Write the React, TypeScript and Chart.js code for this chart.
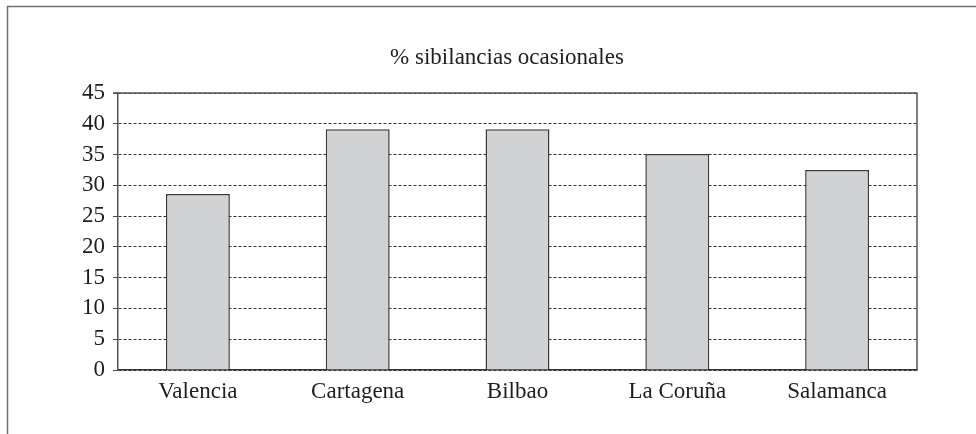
import React, { useEffect, useRef } from "react";
import { Chart, registerables } from "chart.js";

Chart.register(...registerables);

const categories = ["Valencia", "Cartagena", "Bilbao", "La Coruña", "Salamanca"];
const values = [28.6, 39.1, 39.1, 35.1, 32.5];
const yMin = 0;
const yMax = 45;
const yStep = 5;
const titleText = "% sibilancias ocasionales";

const FONT = "'Liberation Serif', 'Times New Roman', serif";
const CANVAS_W = 1006;
const CANVAS_H = 434;

const framePlugin = {
  id: "framePlugin",
  beforeDraw(chart: any) {
    const ctx = chart.ctx;
    ctx.save();
    ctx.fillStyle = "#ffffff";
    ctx.fillRect(0, 0, chart.width, chart.height);
    ctx.strokeStyle = "#707070";
    ctx.lineWidth = 1.5;
    ctx.beginPath();
    ctx.moveTo(7.5, chart.height + 2);
    ctx.lineTo(7.5, 6.5);
    ctx.lineTo(chart.width + 2, 6.5);
    ctx.stroke();
    ctx.restore();
  },
  afterDraw(chart: any) {
    const { left, top, right, bottom } = chart.chartArea;
    const ctx = chart.ctx;
    ctx.save();
    ctx.strokeStyle = "#555555";
    ctx.lineWidth = 1.5;
    ctx.beginPath();
    ctx.moveTo(left - 5, top);
    ctx.lineTo(right, top);
    ctx.lineTo(right, bottom);
    ctx.stroke();
    ctx.restore();
  },
};

export default function App() {
  const ref = useRef<HTMLCanvasElement | null>(null);

  useEffect(() => {
    if (!ref.current) return;
    const chart = new Chart(ref.current, {
      type: "bar",
      data: {
        labels: categories,
        datasets: [
          {
            data: values,
            backgroundColor: "#d1d2d4",
            borderColor: "#3a3a3a",
            borderWidth: 1.5,
            borderSkipped: "bottom",
            barPercentage: 0.4,
            categoryPercentage: 1.0,
          },
        ],
      },
      options: {
        responsive: false,
        animation: false,
        events: [],
        layout: { padding: { left: 8, right: 0, top: 0, bottom: 24 } },
        plugins: {
          legend: { display: false },
          tooltip: { enabled: false },
          title: {
            display: true,
            text: titleText,
            color: "#1e1e1e",
            font: { family: FONT, size: 23, weight: "normal" },
            padding: { top: 44, bottom: 21.4 },
          },
        },
        scales: {
          x: {
            grid: { display: false, drawTicks: false },
            border: { display: true, color: "#333333", width: 1.5 },
            ticks: {
              color: "#1e1e1e",
              font: { family: FONT, size: 23 },
              padding: 8,
              maxRotation: 0,
            },
            afterFit(scale: any) {
              scale.height = 40;
            },
          },
          y: {
            min: yMin,
            max: yMax,
            grid: {
              color: "#333333",
              lineWidth: 1,
              drawTicks: true,
              tickLength: 5,
              tickColor: "#444444",
              tickWidth: 1,
            },
            border: { display: true, color: "#555555", width: 1.5, dash: [3, 2] },
            ticks: {
              stepSize: yStep,
              color: "#1e1e1e",
              font: { family: FONT, size: 23 },
              padding: 8,
            },
            afterFit(scale: any) {
              scale.width = 110;
            },
          },
          ySpace: {
            type: "linear",
            position: "right",
            display: true,
            grid: { display: false, drawTicks: false },
            border: { display: false },
            ticks: { display: false },
            afterFit(scale: any) {
              scale.width = 89;
            },
          },
        },
      },
      plugins: [framePlugin],
    });
    return () => chart.destroy();
  }, []);

  return (
    <div style={{ position: "absolute", left: 0, top: 0, width: 976, height: 434, overflow: "hidden" }}>
      <canvas
        ref={ref}
        width={CANVAS_W}
        height={CANVAS_H}
        style={{ display: "block", width: CANVAS_W, height: CANVAS_H }}
      />
    </div>
  );
}
